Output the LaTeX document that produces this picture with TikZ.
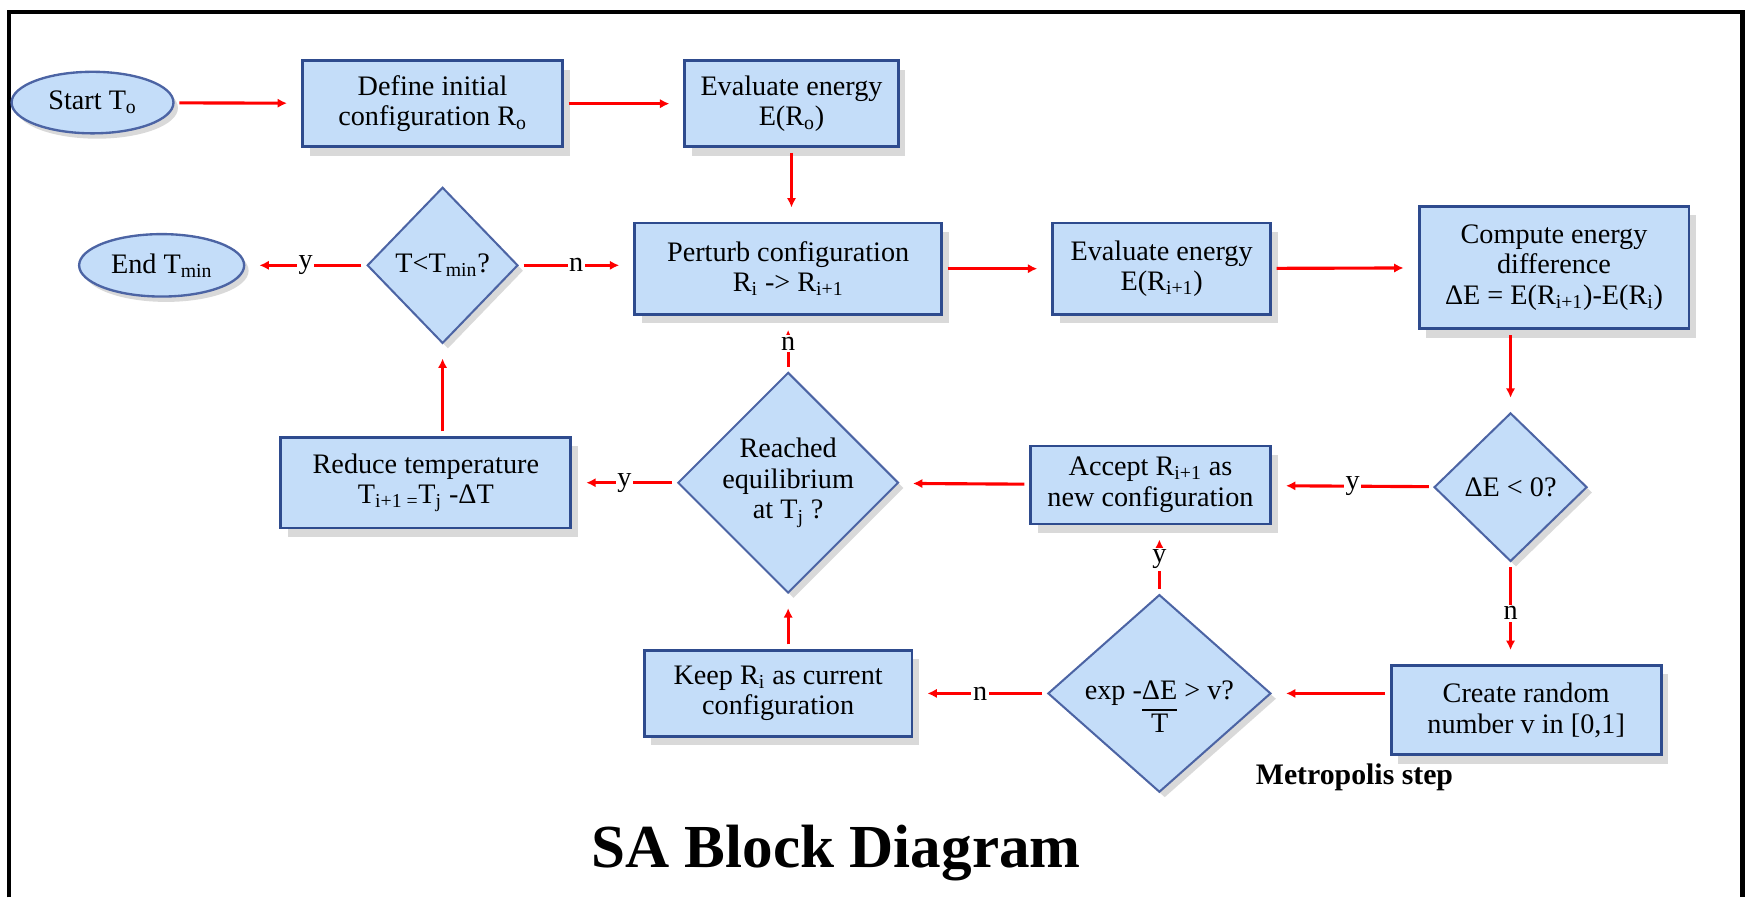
\documentclass[tikz,border=0pt]{standalone}
\usepackage{fontspec}
\setmainfont{Liberation Serif}
\usetikzlibrary{shapes.geometric,shadows,arrows.meta}
\definecolor{boxfill}{HTML}{C4DDF9}
\definecolor{boxline}{HTML}{2E4B8E}
\definecolor{diamline}{HTML}{4C64A4}
\definecolor{shadowgray}{HTML}{D9D9D9}
\begin{document}
\begin{tikzpicture}[x=0.025cm, y=-0.025cm,
	block/.style={ rectangle, draw=boxline, line width=1.8pt, fill=boxfill, align=center, inner sep=2pt, font=\fontsize{18}{19.5}\selectfont, drop shadow={shadow xshift=0.16cm, shadow yshift=-0.2cm, fill=shadowgray, opacity=1} },
	decision/.style={ diamond, draw=diamline, line width=1.3pt, fill=boxfill, align=center, inner sep=0pt, font=\fontsize{18}{19.5}\selectfont, drop shadow={shadow xshift=0.12cm, shadow yshift=-0.12cm, fill=shadowgray, opacity=1} },
	terminal/.style={ ellipse, draw=diamline, line width=1.5pt, fill=boxfill, inner sep=0pt, font=\fontsize{18}{19.5}\selectfont, drop shadow={shadow xshift=0.1cm, shadow yshift=-0.12cm, fill=shadowgray, opacity=1} },
	flow/.style={ red, line width=2pt, -{Latex[length=6pt,width=6pt]}, shorten >=9pt, shorten <=3pt },
	answer/.style={ fill=white, inner sep=1pt, text=black, font=\fontsize{18}{19.5}\selectfont }
]
\useasboundingbox (0,0) rectangle (1568,805);
\draw[line width=2.8pt] (8,805) -- (8,11) -- (1563,11) -- (1563,805);

\node[terminal, minimum width=3.63cm, minimum height=1.38cm] at (83,92) (start) {Start T\textsubscript{o}};
\node[block, minimum width=5.83cm, minimum height=1.93cm] at (388,93) (define) {Define initial\\configuration R\textsubscript{o}};
\node[block, minimum width=4.78cm, minimum height=1.93cm] at (710,93) (eval0) {Evaluate energy\\E(R\textsubscript{o})};

\node[terminal, minimum width=3.7cm, minimum height=1.4cm] at (145,238) (end) {End T\textsubscript{min}};
\node[decision, minimum width=3.38cm, minimum height=3.5cm] at (397,238) (tmin) {T<T\textsubscript{min}?};
\node[block, minimum width=6.88cm, minimum height=2.05cm] at (707,241) (perturb) {Perturb configuration\\R\textsubscript{i} -> R\textsubscript{i+1}};
\node[block, minimum width=4.88cm, minimum height=2.05cm] at (1042,241) (eval1) {Evaluate energy\\E(R\textsubscript{i+1})};
\node[block, minimum width=6.05cm, minimum height=2.75cm] at (1394,240) (compute) {Compute energy\\difference\\ΔE = E(R\textsubscript{i+1})-E(R\textsubscript{i})};

\node[block, minimum width=6.5cm, minimum height=2.03cm] at (382,433) (reduce) {Reduce temperature\\T\textsubscript{i+1 =}T\textsubscript{j} -ΔT};
\node[decision, minimum width=4.55cm, minimum height=4.48cm] at (707,433) (reached) {Reached\\equilibrium\\at T\textsubscript{j} ?};
\node[block, minimum width=5.38cm, minimum height=1.75cm] at (1032,435) (accept) {Accept R\textsubscript{i+1} as\\new configuration};
\node[decision, minimum width=3.43cm, minimum height=3.33cm] at (1355,437) (dE) {ΔE < 0?};

\node[block, minimum width=6.0cm, minimum height=1.93cm] at (698,622) (keep) {Keep R\textsubscript{i} as current\\configuration};
\node[decision, minimum width=5.0cm, minimum height=4.43cm] at (1040,622) (exp) {exp -\smash{\setlength{\arrayrulewidth}{1.2pt}\begin{tabular}[t]{@{}c@{}}ΔE\\\hline T\end{tabular}} > v?};
\node[block, minimum width=6.05cm, minimum height=2.0cm] at (1369,637) (create) {Create random\\number v in [0,1]};

\node[font=\fontsize{19}{21}\selectfont\bfseries] at (1215,697) (metro) {Metropolis step};
\node[font=\fontsize{39}{44}\selectfont\bfseries] at (750,765) (title) {SA Block Diagram};

\draw[flow] (start) to (define);
\draw[flow] (define) to (eval0);
\draw[flow] (eval0.south) to (eval0.south |- perturb.north);
\draw[flow] (perturb) to (eval1);
\draw[flow] (eval1) to (compute);
\draw[flow] (compute.south -| dE.north) to (dE.north);
\draw[flow] (dE) to node[answer] {y} (accept);
\draw[flow] (dE.south) to node[answer] {n} (dE.south |- create.north);
\draw[flow] (create.west |- exp.east) to (exp.east);
\draw[flow] (exp.north) to node[answer] {y} (accept.south -| exp.north);
\draw[flow] (exp) to node[answer] {n} (keep);
\draw[flow] (accept) to (reached);
\draw[flow] (keep.north -| reached.south) to (reached.south);
\draw[flow] (reached) to node[answer] {n} (perturb);
\draw[flow] (reached) to node[answer] {y} (reduce);
\draw[flow] (reduce.north -| tmin.south) to (tmin.south);
\draw[flow] (tmin.east) to node[answer] {n} (tmin.east -| perturb.west);
\draw[flow] (tmin) to node[answer] {y} (end);

\end{tikzpicture}
\end{document}
